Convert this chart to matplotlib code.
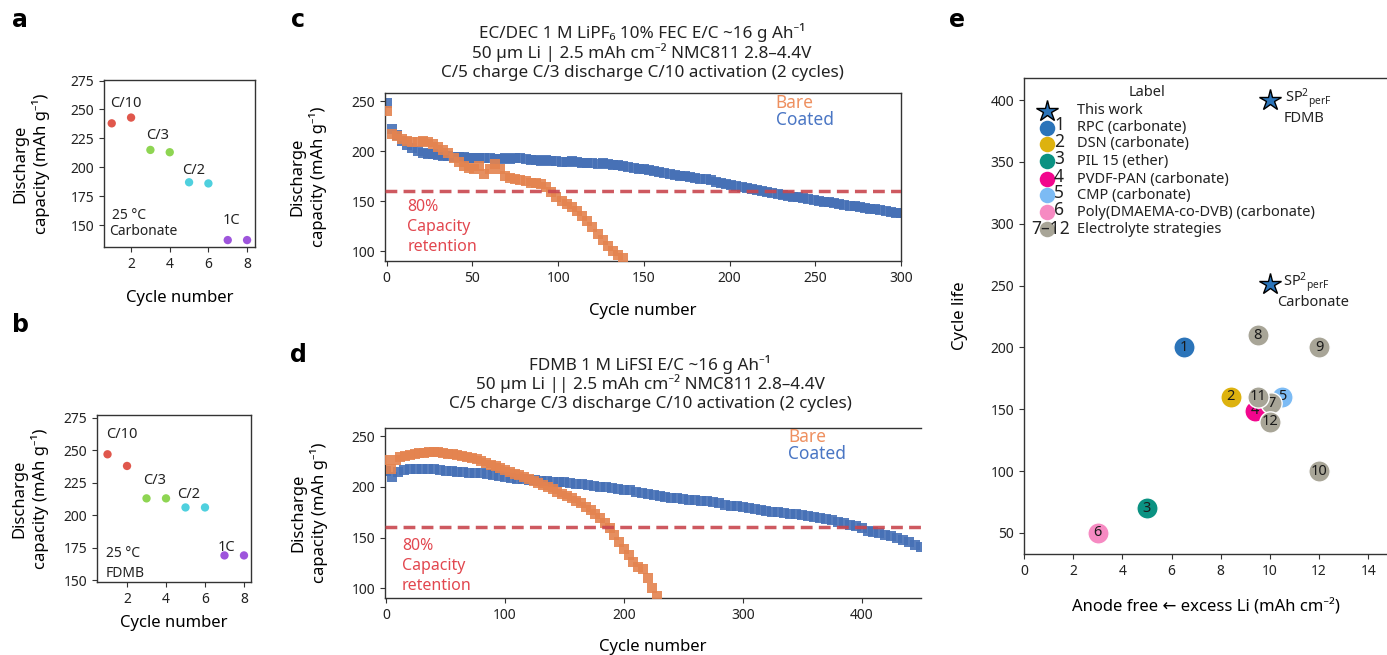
import numpy as np
import matplotlib
matplotlib.use('Agg')
import matplotlib.pyplot as plt

plt.rcParams['font.family'] = ['Noto Sans', 'DejaVu Sans']
plt.rcParams['mathtext.fontset'] = 'custom'
plt.rcParams['mathtext.rm'] = 'Noto Sans'
plt.rcParams['mathtext.it'] = 'Noto Sans:italic'
plt.rcParams['axes.edgecolor'] = '#333333'
plt.rcParams['axes.linewidth'] = 1.0
plt.rcParams['xtick.color'] = '#333333'
plt.rcParams['ytick.color'] = '#333333'
plt.rcParams['xtick.labelcolor'] = '#222222'
plt.rcParams['ytick.labelcolor'] = '#222222'
plt.rcParams['xtick.direction'] = 'out'
plt.rcParams['ytick.direction'] = 'out'
plt.rcParams['xtick.major.size'] = 3.5
plt.rcParams['ytick.major.size'] = 3.5
plt.rcParams['xtick.labelsize'] = 10
plt.rcParams['ytick.labelsize'] = 10

# ---------------- data ----------------
rate_cycles = [1, 2, 3, 4, 5, 6, 7, 8]
rate_colors = ['#E0574C', '#E0574C', '#8ED552', '#8ED552', '#4FD0DE', '#4FD0DE', '#9E55DC', '#9E55DC']
rate_labels = ['C/10', 'C/3', 'C/2', '1C']
a_capacity = [238, 243, 215, 213, 187, 186, 137, 137]
b_capacity = [247, 238, 213, 213, 206, 206, 169, 169]

c_coated_cycles = np.arange(0, 301, 3)
c_coated = [248, 222, 216, 210, 206, 203, 200, 198, 197, 197,
            196, 195, 195, 194, 194, 194, 193, 193, 193, 193,
            193, 192, 192, 193, 192, 193, 193, 192, 191, 191,
            190, 191, 190, 190, 189, 189, 190, 189, 188, 188,
            188, 187, 188, 187, 186, 186, 185, 184, 183, 182,
            182, 181, 180, 179, 178, 177, 176, 175, 175, 174,
            173, 172, 172, 171, 169, 168, 167, 166, 165, 164,
            163, 162, 161, 160, 159, 158, 157, 156, 155, 154,
            154, 153, 152, 151, 150, 149, 149, 148, 147, 146,
            145, 145, 144, 143, 142, 142, 141, 140, 139, 138,
            138]
c_bare_cycles = np.arange(0, 139, 3)
c_bare = [240, 217, 215, 212, 210, 209, 209, 210, 209, 207,
          204, 201, 198, 193, 189, 185, 183, 182, 185, 177,
          182, 187, 182, 175, 173, 172, 171, 170, 168, 168,
          167, 164, 159, 154, 150, 147, 144, 140, 135, 130,
          124, 117, 111, 105, 100, 96, 93]

d_coated_cycles = np.arange(0, 451, 5)
d_coated = [216, 210, 215, 217, 218, 218, 218, 218, 218, 217,
            216, 216, 215, 215, 214, 214, 214, 213, 212, 211,
            210, 209, 208, 208, 207, 207, 206, 206, 205, 205,
            205, 204, 203, 203, 202, 201, 200, 200, 199, 198,
            197, 197, 195, 194, 193, 192, 191, 190, 189, 189,
            188, 187, 187, 186, 186, 185, 184, 182, 181, 181,
            180, 179, 178, 177, 176, 175, 175, 174, 173, 173,
            172, 171, 170, 169, 168, 167, 165, 164, 162, 161,
            159, 157, 156, 155, 153, 152, 150, 148, 146, 143,
            141]
d_bare_cycles = np.arange(0, 229, 4)
d_bare = [226, 218, 226, 229, 230, 231, 232, 233, 233, 234,
          234, 234, 233, 232, 232, 231, 230, 229, 228, 227,
          225, 224, 222, 221, 219, 217, 215, 213, 212, 210,
          208, 206, 204, 202, 200, 198, 195, 193, 191, 189,
          186, 184, 180, 177, 173, 169, 164, 159, 153, 146,
          139, 133, 126, 121, 119, 110, 100, 92]
retention_level = 160

e_labels = ['1', '2', '3', '4', '5', '6', '7', '8', '9', '10', '11', '12']
e_excess_li = [6.5, 8.4, 5.0, 9.4, 10.5, 3.0, 10.05, 9.5, 12.0, 12.0, 9.5, 10.0]
e_cycle_life = [200, 160, 70, 149, 160, 50, 155, 210, 200, 100, 160, 140]
e_colors = ['#2B74B9', '#DDB20F', '#0B9282', '#F2068D', '#7CBBF4', '#F68AC2',
            '#A8A597', '#A8A597', '#A8A597', '#A8A597', '#A8A597', '#A8A597']
e_draw_order = [4, 3, 6, 7, 8, 9, 0, 1, 2, 5, 10, 11]
star_x = [10.0, 10.0]
star_y = [400, 251]
star_line1 = ['SP$^2$$_{\\mathrm{perF}}$', 'SP$^2$$_{\\mathrm{perF}}$']
star_line2 = ['FDMB', 'Carbonate']
legend_numbers = ['', '1', '2', '3', '4', '5', '6', '7–12']
legend_texts = ['This work', 'RPC (carbonate)', 'DSN (carbonate)', 'PIL 15 (ether)',
                'PVDF-PAN (carbonate)', 'CMP (carbonate)', 'Poly(DMAEMA-co-DVB) (carbonate)',
                'Electrolyte strategies']
legend_colors = ['#2B74B9', '#2B74B9', '#DDB20F', '#0B9282', '#F2068D', '#7CBBF4', '#F68AC2', '#A8A597']

BLUE = '#4670B6'
ORANGE = '#E4834F'
DASH = '#C9474F'
RED_TXT = '#E2474F'

W, H = 1387, 655
fig = plt.figure(figsize=(W / 100, H / 100), dpi=100)


def add_ax(x0, y0, x1, y1):
    return fig.add_axes([x0 / W, 1 - y1 / H, (x1 - x0) / W, (y1 - y0) / H])


def fx(px):
    return px / W


def fy(py):
    return 1 - py / H


YLAB = 'Discharge\ncapacity (mAh g⁻¹)'

# ---------------- panel a ----------------
axa = add_ax(104, 80, 255, 247)
axa.scatter(rate_cycles, a_capacity, s=36, c=rate_colors, zorder=3, linewidths=0)
axa.set_xlim(0.6, 8.41)
axa.set_ylim(131, 275.5)
axa.set_xticks([2, 4, 6, 8])
axa.set_yticks([150, 175, 200, 225, 250, 275])
axa.set_xlabel('Cycle number', fontsize=12)
axa.set_ylabel(YLAB, fontsize=12, linespacing=1.25)
axa.xaxis.set_label_coords(0.5, -0.26)
axa.yaxis.set_label_coords(-0.36, 0.5)
for t, x, y in zip(rate_labels, [0.9, 2.77, 4.63, 6.76], [255, 227.6, 197.4, 154.3]):
    axa.text(x, y, t, fontsize=10.5, va='center', ha='left', color='#222222')
axa.text(1.0, 158.6, '25 °C', fontsize=10, va='center', color='#222222')
axa.text(0.86, 144, 'Carbonate', fontsize=10, va='center', color='#222222')

# ---------------- panel b ----------------
axb = add_ax(97, 415, 251, 582)
axb.scatter(rate_cycles, b_capacity, s=36, c=rate_colors, zorder=3, linewidths=0)
axb.set_xlim(0.46, 8.36)
axb.set_ylim(148.5, 277.3)
axb.set_xticks([2, 4, 6, 8])
axb.set_yticks([150, 175, 200, 225, 250, 275])
axb.set_xlabel('Cycle number', fontsize=12)
axb.set_ylabel(YLAB, fontsize=12, linespacing=1.25)
axb.xaxis.set_label_coords(0.5, -0.2)
axb.yaxis.set_label_coords(-0.31, 0.5)
for t, x, y in zip(rate_labels, [0.92, 2.82, 4.56, 6.66], [262.6, 227.1, 216.3, 175.4]):
    axb.text(x, y, t, fontsize=10.5, va='center', ha='left', color='#222222')
axb.text(0.92, 170.8, '25 °C', fontsize=10, va='center', color='#222222')
axb.text(0.92, 155.4, 'FDMB', fontsize=10, va='center', color='#222222')


# ---------------- panels c, d ----------------
def cycling(ax, cc, cv, bc, bv, xlim, xticks, txt_xy, leg_xy):
    ax.plot(cc, cv, 's', ms=7, color=BLUE, alpha=0.9, mew=0, zorder=2)
    ax.plot(bc, bv, 's', ms=7, color=ORANGE, alpha=0.9, mew=0, zorder=3)
    ax.axhline(retention_level, color=DASH, lw=2.5, dashes=(3.4, 1.8), alpha=0.9, zorder=4)
    ax.set_xlim(*xlim)
    ax.set_ylim(90.5, 258)
    ax.set_xticks(xticks)
    ax.set_yticks([100, 150, 200, 250])
    ax.set_xlabel('Cycle number', fontsize=12)
    ax.set_ylabel(YLAB, fontsize=12, linespacing=1.25)
    ax.text(txt_xy[0], txt_xy[1], '80%\nCapacity\nretention', color=RED_TXT,
            fontsize=11.5, va='center', ha='left', linespacing=1.33)
    ax.text(leg_xy[0], leg_xy[1], 'Bare', color='#EE9060', fontsize=12.5, va='center')
    ax.text(leg_xy[0], leg_xy[1] - 17, 'Coated', color='#4A76C4', fontsize=12.5, va='center')


axc = add_ax(385, 93, 901, 261)
cycling(axc, c_coated_cycles, c_coated, c_bare_cycles, c_bare, (-1, 300),
        [0, 50, 100, 150, 200, 250, 300], (12, 124.5), (227, 248))
axc.xaxis.set_label_coords(0.5, -0.25)
axc.yaxis.set_label_coords(-0.112, 0.5)

axd = add_ax(385, 428, 921, 598)
cycling(axd, d_coated_cycles, d_coated, d_bare_cycles, d_bare, (-1, 450),
        [0, 100, 200, 300, 400], (13.4, 122), (338, 249))
axd.spines['right'].set_visible(False)
axd.xaxis.set_label_coords(0.5, -0.24)
axd.yaxis.set_label_coords(-0.107, 0.5)

title_c = ['EC/DEC 1 M LiPF₆ 10% FEC E/C ~16 g Ah⁻¹',
           '50 µm Li | 2.5 mAh cm⁻² NMC811 2.8–4.4V',
           'C/5 charge C/3 discharge C/10 activation (2 cycles)']
title_d = ['FDMB 1 M LiFSI E/C ~16 g Ah⁻¹',
           '50 µm Li || 2.5 mAh cm⁻² NMC811 2.8–4.4V',
           'C/5 charge C/3 discharge C/10 activation (2 cycles)']
for i, line in enumerate(title_c):
    fig.text(fx(642), fy(33 + 20 * i), line, ha='center', va='center', fontsize=12.3, color='#222222')
for i, line in enumerate(title_d):
    fig.text(fx(650), fy(364 + 20 * i), line, ha='center', va='center', fontsize=12.3, color='#222222')

# ---------------- panel e ----------------
axe = add_ax(1024, 78, 1387, 554)
axe.spines['right'].set_visible(False)
for k, i in enumerate(e_draw_order):
    axe.scatter(e_excess_li[i], e_cycle_life[i], s=235, color=e_colors[i],
                edgecolors='white', linewidths=1.0, zorder=3 + 2 * k)
    axe.text(e_excess_li[i], e_cycle_life[i], e_labels[i], ha='center', va='center',
             fontsize=10.5, color='#1a1a1a', zorder=4 + 2 * k)
axe.plot(star_x, star_y, '*', ms=16, color='#2B74B9', mec='black', mew=1.0, ls='none', zorder=40)
line1_dx = [0.61, 0.53]
line2_dx = [1.38, 1.75]
for x, y, t1, t2, d1, d2 in zip(star_x, star_y, star_line1, star_line2, line1_dx, line2_dx):
    axe.text(x + d1, y + 1, t1, ha='left', va='center', fontsize=10.5, color='#222222', zorder=41)
    axe.text(x + d2, y - 15, t2, ha='center', va='center', fontsize=10.5, color='#222222', zorder=41)
axe.set_xlim(0, 14.76)
axe.set_ylim(33, 417.8)
axe.set_xticks([0, 2, 4, 6, 8, 10, 12, 14])
axe.set_yticks([50, 100, 150, 200, 250, 300, 350, 400])
axe.set_xlabel('Anode free ← excess Li (mAh cm⁻²)', fontsize=12)
axe.set_ylabel('Cycle life', fontsize=12)
axe.xaxis.set_label_coords(0.5, -0.095)
axe.yaxis.set_label_coords(-0.154, 0.5)

# legend (manual)
leg_rows_y = [110.7, 127.7, 144, 161, 179, 195, 212, 229.3]
mx = (1047 - 1024) / 363
axe.text((1147 - 1024) / 363, (554 - 93) / 476, 'Label', transform=axe.transAxes,
         ha='center', va='center', fontsize=10.5, color='#222222')
for j, yy in enumerate(leg_rows_y):
    ay = (554 - yy) / 476
    if j == 0:
        axe.plot([mx], [ay], '*', ms=16, color=legend_colors[j], mec='black', mew=1.0,
                 transform=axe.transAxes, clip_on=False)
    else:
        axe.scatter([mx], [ay], s=125, color=legend_colors[j], linewidths=0,
                    transform=axe.transAxes, clip_on=False)
    num = legend_numbers[j]
    if num:
        if j == 7:
            axe.text((1051 - 1024) / 363, ay, num, transform=axe.transAxes, ha='center',
                     va='center', fontsize=12.5, color='#222222')
        else:
            axe.text((1054 - 1024) / 363, ay + 0.005, num, transform=axe.transAxes, ha='left',
                     va='center', fontsize=12.5, color='#222222')
    axe.text((1077 - 1024) / 363, ay, legend_texts[j], transform=axe.transAxes, ha='left',
             va='center', fontsize=10.5, color='#222222')

# panel letters
for letter, x, y in [('a', 20, 20), ('b', 20, 325), ('c', 298, 20), ('d', 298, 355), ('e', 957, 20)]:
    fig.text(fx(x), fy(y), letter, fontsize=17, fontweight='bold', va='center', ha='center',
             family='DejaVu Sans')

fig.savefig('out.png', dpi=100)
